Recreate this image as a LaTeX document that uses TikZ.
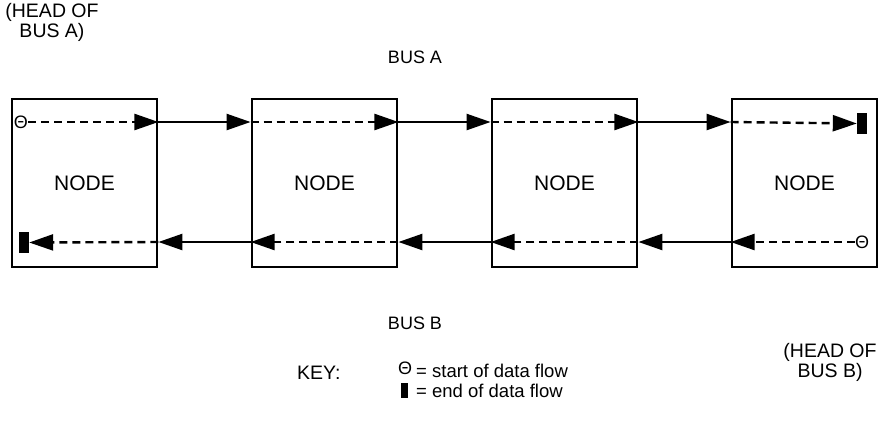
\documentclass[tikz,border=0pt]{standalone}
\usepackage{fontspec}
\setmainfont{Liberation Sans}
\usetikzlibrary{arrows.meta}

\begin{document}
\begin{tikzpicture}
[
    x=1pt, y=-1pt,
    busnode/.style={draw, line width=2.8pt, minimum width=145pt, minimum height=168pt,
        inner sep=0pt, font=\fontsize{21}{23}\selectfont},
    label text/.style={font=\fontsize{19.5}{20}\selectfont, align=center, inner sep=0pt},
    bus text/.style={label text, font=\fontsize{18}{20}\selectfont},
    link/.style={line width=2.4pt, -{Triangle[length=24pt, width=16pt]}},
    flow/.style={link, dash pattern=on 8pt off 5pt},
    start mark/.style={inner sep=0pt, font=\fontsize{18}{18}\selectfont},
    end mark/.style={fill=black, inner sep=0pt, minimum width=10pt, minimum height=21pt},
]
\useasboundingbox (0,0) rectangle (882,429);
\coordinate (toprow) at (0,122);
\coordinate (botrow) at (0,242);
% the four nodes on the two buses
\foreach \i/\x in {1/84.5, 2/324.5, 3/564.5, 4/804.5}
    \node [busnode] (node\i) at (\x,183) {NODE};

% bus A, left to right
\node [start mark] (starta) at (21,122) {Θ};
\node [end mark] (enda) at (862,123.5) {};
\draw [flow] (starta) -- (node1.east |- toprow);
\draw [link] (node1.east |- toprow) -- (node2.west |- toprow);
\draw [flow] (node2.west |- toprow) -- (node2.east |- toprow);
\draw [link] (node2.east |- toprow) -- (node3.west |- toprow);
\draw [flow] (node3.west |- toprow) -- (node3.east |- toprow);
\draw [link] (node3.east |- toprow) -- (node4.west |- toprow);
\draw [flow] (node4.west |- toprow) -- (enda.west);

% bus B, right to left
\node [start mark] (startb) at (862,242) {Θ};
\node [end mark] (endb) at (24,242.5) {};
\draw [flow] (startb) -- (node4.west |- botrow);
\draw [link] (node4.west |- botrow) -- (node3.east |- botrow);
\draw [flow] (node3.east |- botrow) -- (node3.west |- botrow);
\draw [link] (node3.west |- botrow) -- (node2.east |- botrow);
\draw [flow] (node2.east |- botrow) -- (node2.west |- botrow);
\draw [link] (node2.west |- botrow) -- (node1.east |- botrow);
\draw [flow] (node1.east |- botrow) -- (endb.east);

% labels
\node [label text] (heada) at (52,22) {(HEAD OF\\ BUS A)};
\node [bus text] (busa) at (415,57) {BUS A};
\node [bus text] (busb) at (415,323) {BUS B};
\node [label text] (headb) at (830,362) {(HEAD OF\\ BUS B)};

% key
\node [label text, anchor=west] (keyword) at (297,373) {KEY:};
\node [label text, align=left, anchor=north west, font=\fontsize{18.5}{20}\selectfont]
    (keytext) at (416,364) {= start of data flow\\= end of data flow};
\node [start mark] (keystart) at (405,368) {Θ};
\node [end mark, minimum width=7pt, minimum height=15pt] (keyend) at (404.5,390.5) {};
\end{tikzpicture}
\end{document}
